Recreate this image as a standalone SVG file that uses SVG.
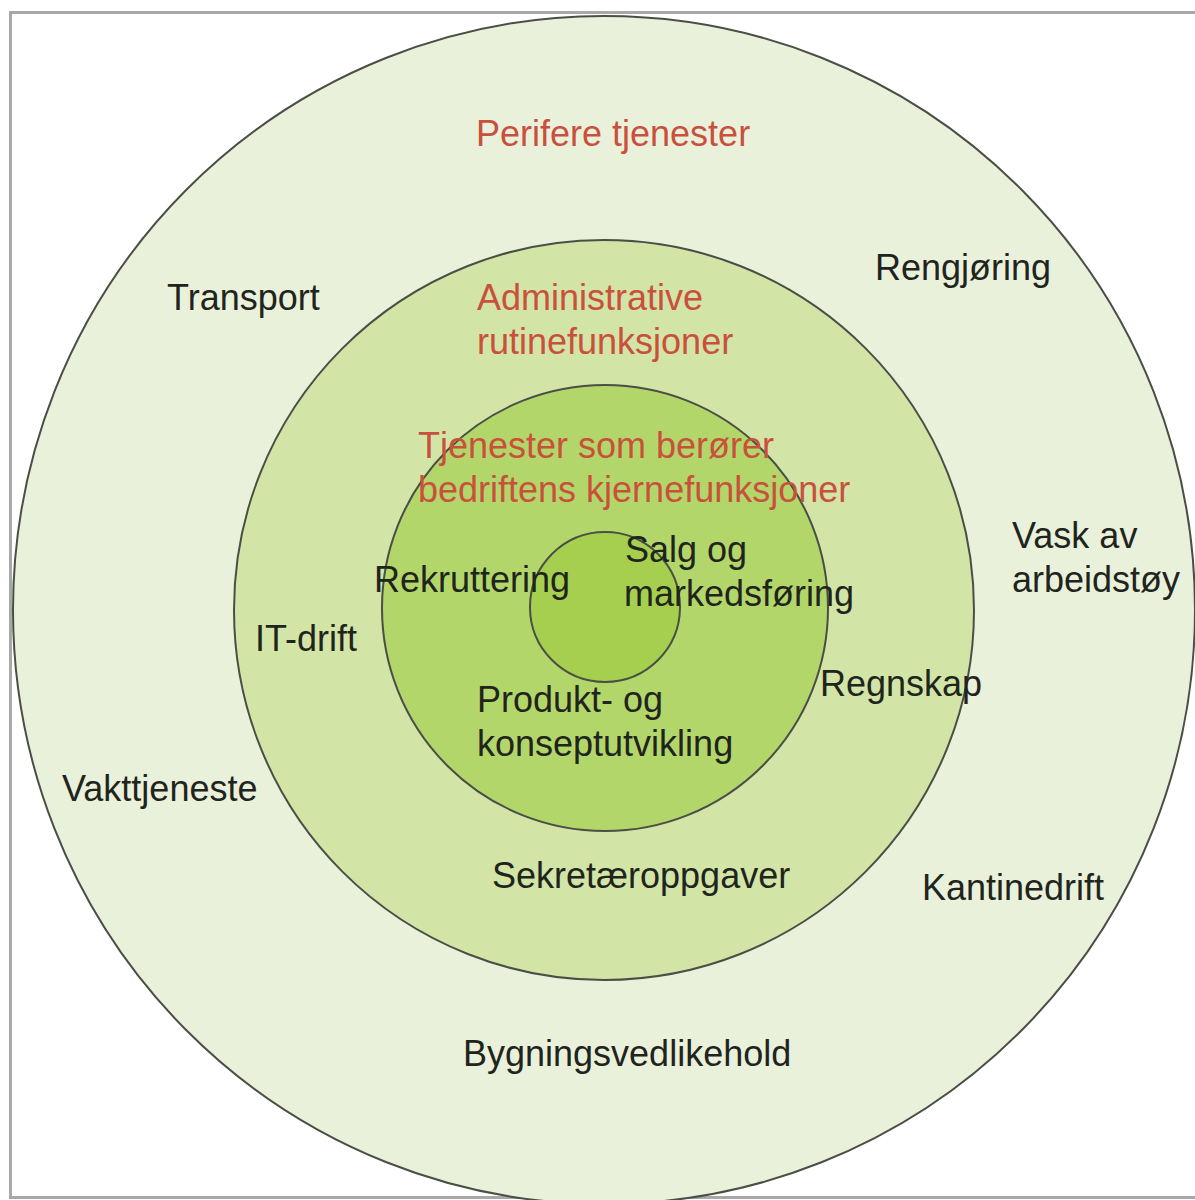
<svg xmlns="http://www.w3.org/2000/svg" width="1195" height="1200" viewBox="0 0 1195 1200">
<style>
.ring{stroke:#4a4f45;stroke-width:2}
.t{font-family:"Liberation Sans",Arial,sans-serif;font-size:36px;fill:#1f241c}
.r{font-family:"Liberation Sans",Arial,sans-serif;font-size:36px;fill:#c9503c}
</style>
<rect x="0" y="0" width="1195" height="1200" fill="#ffffff"/>
<rect x="10.5" y="12.5" width="1200" height="1185" fill="none" stroke="#a8a8a8" stroke-width="3"/>
<g id="outer">
<ellipse class="ring" cx="604" cy="610" rx="591" ry="594" fill="#eaf1db"/>
</g>
<g id="admin">
<circle class="ring" cx="604" cy="610" r="370" fill="#d2e4a6"/>
</g>
<g id="core">
<circle class="ring" cx="605" cy="608" r="223" fill="#b3d66a"/>
</g>
<g id="center">
<circle class="ring" cx="605" cy="607" r="75" fill="#a6cf4f"/>
</g>
<g id="connectors"></g>
<g id="labels">
<text class="r" x="476" y="146">Perifere tjenester</text>
<text class="t" x="167" y="310">Transport</text>
<text class="t" x="875" y="280">Rengjøring</text>
<text class="r" x="477" y="310">Administrative</text>
<text class="r" x="477" y="354">rutinefunksjoner</text>
<text class="r" x="418" y="458">Tjenester som berører</text>
<text class="r" x="418" y="502">bedriftens kjernefunksjoner</text>
<text class="t" x="625" y="562">Salg og</text>
<text class="t" x="624" y="606">markedsføring</text>
<text class="t" x="374" y="592">Rekruttering</text>
<text class="t" x="255" y="651">IT-drift</text>
<text class="t" x="820" y="696">Regnskap</text>
<text class="t" x="477" y="712">Produkt- og</text>
<text class="t" x="477" y="756">konseptutvikling</text>
<text class="t" x="62" y="801">Vakttjeneste</text>
<text class="t" x="492" y="888">Sekretæroppgaver</text>
<text class="t" x="922" y="900">Kantinedrift</text>
<text class="t" x="463" y="1066">Bygningsvedlikehold</text>
<text class="t" x="1012" y="548">Vask av</text>
<text class="t" x="1012" y="592">arbeidstøy</text>
</g>
</svg>
